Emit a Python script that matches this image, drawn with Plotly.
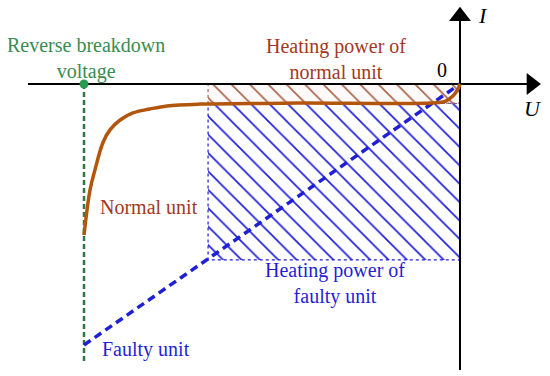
import plotly.graph_objects as go

# ---- data (schematic units: U horizontal, I vertical, origin at 0) ----
U_breakdown = -10.0
U_rect_left = -6.7
I_normal_flat = -0.73
I_fault_bottom = -6.74

normal_U = [-10.0, -9.84, -9.71, -9.50, -9.31, -9.04, -8.70, -8.25, -7.79, -6.92, -5.59, -4.26, -0.75, -0.40, -0.19, -0.05, 0.0]
normal_I = [-5.79, -4.06, -3.30, -2.26, -1.76, -1.38, -1.11, -0.96, -0.84, -0.77, -0.75, -0.73, -0.73, -0.67, -0.46, -0.19, 0.0]

faulty_U = [-10.0, 0.0]
faulty_I = [-10.0, 0.0]

xaxis_U = [-11.49, 1.9]
yaxis_I = [-10.96, 2.6]

# ---- colours ----
green = "#3a8c50"
brown_txt = "#a3381e"
curve_col = "#b2560e"
blue = "#1f1fd6"
hatch_red = "#a8654a"

font_family = "Liberation Serif, Times New Roman, serif"

fig = go.Figure()

# blue hatched rectangle (heating power of faulty unit)
fig.add_trace(go.Scatter(
    x=[U_rect_left, 0, 0, U_rect_left, U_rect_left],
    y=[I_normal_flat, I_normal_flat, I_fault_bottom, I_fault_bottom, I_normal_flat],
    mode="lines", fill="toself",
    line=dict(color=blue, width=1.2, dash="dot"),
    fillcolor="white",
    fillpattern=dict(shape="\\", fgcolor=blue, bgcolor="white", size=13, solidity=0.13, fillmode="replace"),
    hoverinfo="skip", showlegend=False))

# red hatched rectangle (heating power of normal unit)
fig.add_trace(go.Scatter(
    x=[U_rect_left, 0, 0, U_rect_left, U_rect_left],
    y=[0, 0, I_normal_flat, I_normal_flat, 0],
    mode="lines", fill="toself",
    line=dict(color=hatch_red, width=1.2, dash="dot"),
    fillcolor="white",
    fillpattern=dict(shape="\\", fgcolor=hatch_red, bgcolor="#fffafa", size=13, solidity=0.13, fillmode="replace"),
    hoverinfo="skip", showlegend=False))

# axes lines
fig.add_trace(go.Scatter(x=xaxis_U, y=[0, 0], mode="lines",
                         line=dict(color="black", width=2), hoverinfo="skip", showlegend=False))
fig.add_trace(go.Scatter(x=[0, 0], y=yaxis_I, mode="lines",
                         line=dict(color="black", width=2), hoverinfo="skip", showlegend=False))
# arrowheads
fig.add_trace(go.Scatter(x=[xaxis_U[1]], y=[0], mode="markers",
                         marker=dict(symbol="triangle-right", size=19, color="black"),
                         hoverinfo="skip", showlegend=False))
fig.add_trace(go.Scatter(x=[0], y=[yaxis_I[1]], mode="markers",
                         marker=dict(symbol="triangle-up", size=19, color="black"),
                         hoverinfo="skip", showlegend=False))

# reverse breakdown voltage vertical
fig.add_trace(go.Scatter(x=[U_breakdown, U_breakdown], y=[0, -10.7], mode="lines",
                         line=dict(color="#2f7a45", width=2.5, dash="5px,3px"),
                         hoverinfo="skip", showlegend=False))

# faulty unit line
fig.add_trace(go.Scatter(x=faulty_U, y=faulty_I, mode="lines",
                         line=dict(color=blue, width=3.5, dash="8px,5px"),
                         hoverinfo="skip", showlegend=False))

# normal unit curve
fig.add_trace(go.Scatter(x=normal_U, y=normal_I, mode="lines",
                         line=dict(color=curve_col, width=3.5, shape="spline", smoothing=1.0),
                         hoverinfo="skip", showlegend=False))

# breakdown point
fig.add_trace(go.Scatter(x=[U_breakdown], y=[0], mode="markers",
                         marker=dict(color="#2a9a50", size=9),
                         hoverinfo="skip", showlegend=False))

def ann(x, y, text, color, italic=False, size=20):
    fig.add_annotation(x=x, y=y, text=text, showarrow=False, xanchor="center", yanchor="middle",
                       font=dict(family=font_family, size=size, color=color,
                                 style="italic" if italic else "normal"))

ann(-9.95, 0.98, "Reverse breakdown<br>voltage", green)
ann(-3.30, 0.96, "Heating power of<br>normal unit", brown_txt)
ann(-0.48, 0.55, "0", "black")
ann(0.61, 2.64, "I", "black", italic=True, size=22)
ann(1.94, -0.92, "U", "black", italic=True, size=22)
ann(-8.27, -4.71, "Normal unit", brown_txt)
ann(-3.32, -7.66, "Heating power of<br>faulty unit", blue)
ann(-8.35, -10.19, "Faulty unit", blue)

fig.update_layout(
    width=550, height=376,
    margin=dict(l=0, r=0, t=0, b=0),
    paper_bgcolor="white", plot_bgcolor="white",
    xaxis=dict(range=[-12.234, 2.394], visible=False, fixedrange=True),
    yaxis=dict(range=[-11.188, 3.218], visible=False, fixedrange=True),
)

fig.write_html("out.html", config={"displayModeBar": False},
               post_script="document.body.style.margin='0';")
